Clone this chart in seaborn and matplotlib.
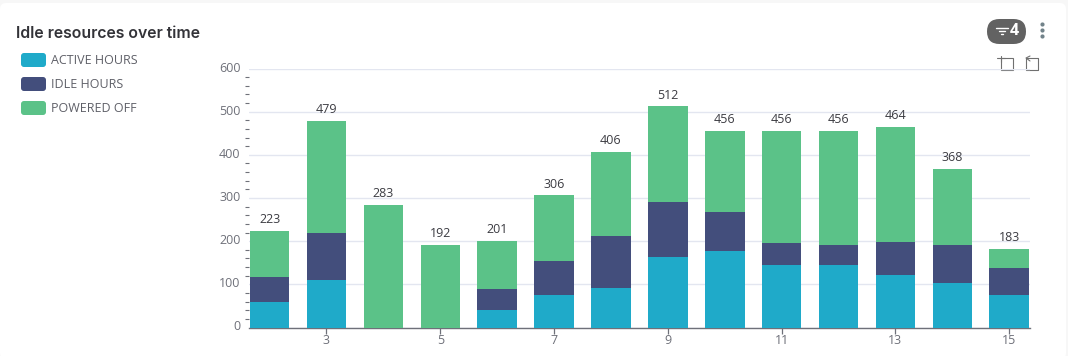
import matplotlib
matplotlib.use('Agg')
import matplotlib.pyplot as plt
from matplotlib.patches import FancyBboxPatch, Rectangle
from matplotlib.ticker import MultipleLocator
from matplotlib.transforms import ScaledTranslation
import pandas as pd
import seaborn as sns

# Values
days = [2, 3, 4, 5, 6, 7, 8, 9, 10, 11, 12, 13, 14, 15]
active_hours = [58, 110, 0, 0, 40, 75, 92, 163, 178, 144, 145, 122, 103, 75]
idle_hours = [59, 110, 0, 0, 50, 78, 121, 127, 89, 51, 47, 77, 89, 62]
powered_off = [106, 259, 283, 192, 111, 153, 193, 222, 189, 261, 264, 265, 176, 46]
totals = [223, 479, 283, 192, 201, 306, 406, 512, 456, 456, 456, 464, 368, 183]
x_labels = ['3', '5', '7', '9', '11', '13', '15']
series_names = ['ACTIVE HOURS', 'IDLE HOURS', 'POWERED OFF']
colors = ['#1FAAC9', '#434E7C', '#5BC288']

W, H = 1068, 356

sns.set_theme(style='white')
plt.rcParams['font.family'] = ['Open Sans', 'DejaVu Sans']

df = pd.DataFrame({'day': days, 'active': active_hours, 'idle': idle_hours, 'off': powered_off})
df['idle_base'] = df['active']
df['off_base'] = df['active'] + df['idle']

fig = plt.figure(figsize=(W / 100, H / 100), dpi=100, facecolor='#F7F7F7')

# card background and the small controls, in pixel coordinates
bg = fig.add_axes([0, 0, 1, 1], zorder=0)
bg.set_xlim(0, W)
bg.set_ylim(H, 0)
bg.axis('off')
bg.add_patch(FancyBboxPatch((0, 3), 1066, H, boxstyle='round,pad=0,rounding_size=6',
                            fc='white', ec='none'))
bg.text(16, 33, 'Idle resources over time', fontsize=11.4, fontweight='semibold',
        family=['Inter', 'DejaVu Sans'], color='#333338', va='center')

for i, name in enumerate(series_names):
    y = 53 + i * 24
    bg.add_patch(FancyBboxPatch((21, y), 25, 14, boxstyle='round,pad=0,rounding_size=3',
                                fc=colors[i], ec='none', lw=0))
    bg.text(51, y + 7, name, fontsize=9, color='#5F6068', va='center')

# filter pill
bg.add_patch(FancyBboxPatch((987, 19), 39, 25, boxstyle='round,pad=0,rounding_size=12.5',
                            fc='#626262', ec='none', lw=0))
for x0, x1, y in [(996, 1008, 27.5), (999, 1005, 31), (1001, 1003, 34)]:
    bg.plot([x0, x1], [y, y], color='white', lw=1)
bg.text(1014, 31, '4', fontsize=11.5, fontweight='bold', color='white', ha='center', va='center')
for y in [24, 30, 36]:
    bg.plot([1042], [y], 'o', ms=3, mew=0, color='#72838A')

# zoom / restore icons
icon = '#707070'
bg.add_patch(Rectangle((1001, 58), 12, 12, fc='none', ec=icon, lw=0.8))
bg.plot([997, 1005], [58, 58], color=icon, lw=0.8)
bg.plot([1001, 1001], [56, 62], color=icon, lw=0.8)
bg.plot([1026, 1026, 1038, 1038, 1026, 1026], [62, 70, 70, 58, 58, 62], color=icon, lw=0.8)
bg.plot([1030, 1026, 1030], [56, 58, 61], color=icon, lw=0.8)

# plot area
ax = fig.add_axes([249 / W, 1 - 327.5 / H, 781 / W, 259 / H], zorder=1)
ax.patch.set_alpha(0)
bar_kw = dict(width=0.694, saturation=1, linewidth=0, ax=ax, zorder=3)
sns.barplot(data=df, x='day', y='active', color=colors[0], **bar_kw)
sns.barplot(data=df, x='day', y='idle', bottom=df['idle_base'], color=colors[1], **bar_kw)
sns.barplot(data=df, x='day', y='off', bottom=df['off_base'], color=colors[2], **bar_kw)

for i, total in enumerate(totals):
    ax.annotate(str(total), (i, total), xytext=(0, 3.5), textcoords='offset points', ha='center',
                va='bottom', fontsize=9, color='#3C3C42', zorder=4)

ax.set_xlim(-0.362, 13.365)
ax.set_ylim(0, 600)
ax.set_xlabel('')
ax.set_ylabel('')
ax.set_xticks(range(1, 14, 2))
ax.set_xticklabels(x_labels)
ax.set_yticks(range(0, 601, 100))
ax.yaxis.set_minor_locator(MultipleLocator(20))
ax.grid(axis='y', which='major', color='#E3E6F0', lw=1, zorder=0)
ax.set_axisbelow(True)
ax.tick_params(axis='x', which='major', length=4, width=0.9, color='#6E7079', labelcolor='#6E7079',
               labelsize=9, pad=1, bottom=True)
ax.tick_params(axis='y', which='major', length=0, labelcolor='#6E7079', labelsize=9, pad=6)
ax.tick_params(axis='y', which='minor', length=3, width=0.8, color='#6E7079', left=True)
# y labels sit slightly above their gridlines
for label in ax.get_yticklabels():
    label.set_transform(label.get_transform() + ScaledTranslation(0, 2 / 100, fig.dpi_scale_trans))
sns.despine(ax=ax, left=True)
ax.spines['bottom'].set_color('#6E7079')
ax.spines['bottom'].set_linewidth(1)

plt.savefig('out.png', dpi=100, facecolor=fig.get_facecolor())
